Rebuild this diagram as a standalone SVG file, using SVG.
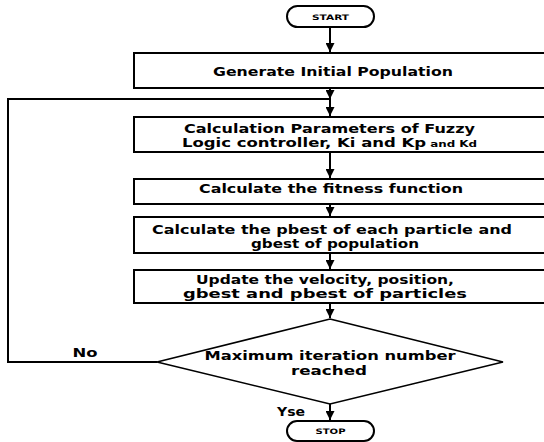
<svg xmlns="http://www.w3.org/2000/svg" width="544" height="442" viewBox="0 0 544 442">
<style>
.box{fill:#fff;stroke:#000;stroke-width:2}
.ln{fill:none;stroke:#000;stroke-width:2}
.t{font-family:"DejaVu Sans","Liberation Sans",sans-serif;font-weight:700;font-size:11.8px;fill:#000;text-anchor:middle}
.s{font-family:"DejaVu Sans","Liberation Sans",sans-serif;font-weight:700;font-size:7.5px;fill:#000;text-anchor:middle}
</style>
<defs>
<marker id="ah" viewBox="0 0 10 10" refX="10" refY="5" markerWidth="4.5" markerHeight="4.5" orient="auto" markerUnits="strokeWidth">
<path d="M0,0 L10,5 L0,10 z" fill="#000"/>
</marker>
</defs>
<g id="connectors">
<path class="ln" d="M330,27 V52" marker-end="url(#ah)"/>
<path class="ln" d="M330,89 V99" marker-end="url(#ah)"/>
<path class="ln" d="M157,362 H8 V99 H330"/>
<path class="ln" d="M330,99 V116" marker-end="url(#ah)"/>
<path class="ln" d="M330,153 V178" marker-end="url(#ah)"/>
<path class="ln" d="M330,205 V216" marker-end="url(#ah)"/>
<path class="ln" d="M330,254 V269" marker-end="url(#ah)"/>
<path class="ln" d="M330,304 V318" marker-end="url(#ah)"/>
<path class="ln" d="M330,404 V420" marker-end="url(#ah)"/>
<text class="t" x="85" y="357" textLength="25" lengthAdjust="spacingAndGlyphs">No</text>
<text class="t" x="291" y="416" textLength="28" lengthAdjust="spacingAndGlyphs">Yse</text>
</g>
<g id="start">
<rect class="box" x="287" y="6" width="87" height="21" rx="10.5"/>
<text class="s" x="330.5" y="19.5" textLength="37" lengthAdjust="spacingAndGlyphs">START</text>
</g>
<g id="generate">
<rect class="box" x="134" y="53" width="420" height="35"/>
<text class="t" x="333" y="75.5" textLength="240" lengthAdjust="spacingAndGlyphs">Generate Initial Population</text>
</g>
<g id="params">
<rect class="box" x="134" y="117" width="420" height="35"/>
<text class="t" x="329.5" y="132.5" textLength="291" lengthAdjust="spacingAndGlyphs">Calculation Parameters of Fuzzy</text>
<text class="t" x="329.5" y="146.5" textLength="295" lengthAdjust="spacingAndGlyphs">Logic controller, Ki and Kp<tspan style="font-size:8.5px"> and Kd</tspan></text>
</g>
<g id="fitness">
<rect class="box" x="134" y="179" width="420" height="25"/>
<text class="t" x="331" y="193" textLength="264" lengthAdjust="spacingAndGlyphs">Calculate the fitness function</text>
</g>
<g id="pbest">
<rect class="box" x="134" y="217" width="420" height="36"/>
<text class="t" x="332" y="234" textLength="360" lengthAdjust="spacingAndGlyphs">Calculate the pbest of each particle and</text>
<text class="t" x="335" y="248" textLength="168" lengthAdjust="spacingAndGlyphs">gbest of population</text>
</g>
<g id="update">
<rect class="box" x="134" y="270" width="420" height="33"/>
<text class="t" x="325" y="284" textLength="258" lengthAdjust="spacingAndGlyphs">Update the velocity, position,</text>
<text class="t" x="325" y="298" textLength="284" lengthAdjust="spacingAndGlyphs">gbest and pbest of particles</text>
</g>
<g id="decision">
<path class="box" d="M330,319 L503,362 L330,404 L157,362 Z" style="stroke-width:1.5"/>
<text class="t" x="330" y="360" textLength="251" lengthAdjust="spacingAndGlyphs">Maximum iteration number</text>
<text class="t" x="329" y="375" textLength="76" lengthAdjust="spacingAndGlyphs">reached</text>
</g>
<g id="stop">
<rect class="box" x="287" y="421" width="87" height="20" rx="10"/>
<text class="s" x="330.5" y="434" textLength="30" lengthAdjust="spacingAndGlyphs">STOP</text>
</g>
</svg>
